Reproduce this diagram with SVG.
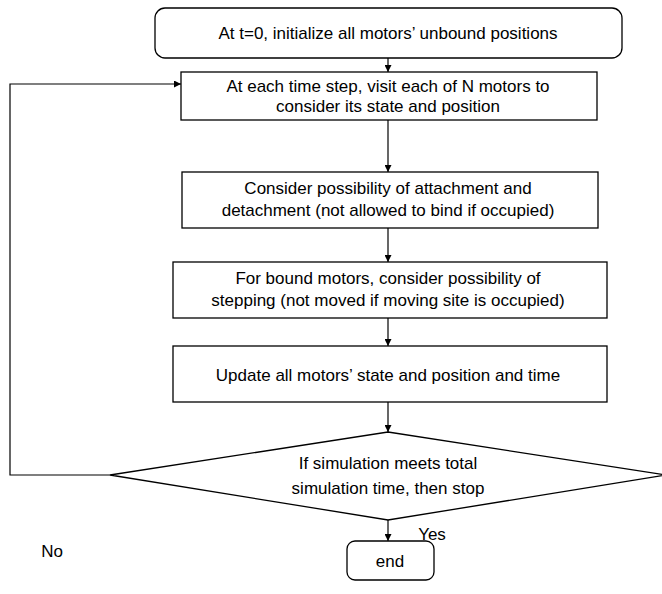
<svg xmlns="http://www.w3.org/2000/svg" width="662" height="594" viewBox="0 0 662 594">
<style>
.box{fill:#fff;stroke:#000;stroke-width:1.3}
.t{font-family:"Liberation Sans",Arial,sans-serif;font-size:17px;fill:#000;text-anchor:middle;dominant-baseline:central}
.c{fill:none;stroke:#000;stroke-width:1.2}
</style>
<defs>
<marker id="ah" viewBox="0 0 10 10" refX="10" refY="5" markerWidth="7" markerHeight="7" orient="auto" markerUnits="userSpaceOnUse">
<path d="M0,0 L10,5 L0,10 z" fill="#000"/>
</marker>
</defs>
<rect width="662" height="594" fill="#fff"/>
<g id="connectors">
<line class="c" x1="388" y1="58" x2="388" y2="72" marker-end="url(#ah)"/>
<line class="c" x1="388" y1="120" x2="388" y2="172" marker-end="url(#ah)"/>
<line class="c" x1="388" y1="228" x2="388" y2="262" marker-end="url(#ah)"/>
<line class="c" x1="388" y1="318" x2="388" y2="346" marker-end="url(#ah)"/>
<line class="c" x1="388" y1="402" x2="388" y2="432" marker-end="url(#ah)"/>
<line class="c" x1="388" y1="520" x2="388" y2="541" marker-end="url(#ah)"/>
<polyline class="c" points="110,475 10,475 10,84 181,84" marker-end="url(#ah)"/>
<text class="t" x="52" y="551">No</text>
<text class="t" x="432" y="534">Yes</text>
</g>
<g id="n1"><rect class="box" x="155" y="8" width="467" height="50" rx="10"/><text class="t" x="388" y="33">At t=0, initialize all motors’ unbound positions</text></g>
<g id="n2"><rect class="box" x="181" y="72" width="416" height="48"/><text class="t" x="388" y="86">At each time step, visit each of N motors to</text><text class="t" x="388" y="106">consider its state and position</text></g>
<g id="n3"><rect class="box" x="182" y="172" width="416" height="56"/><text class="t" x="388" y="188">Consider possibility of attachment and</text><text class="t" x="388" y="210">detachment (not allowed to bind if occupied)</text></g>
<g id="n4"><rect class="box" x="173" y="262" width="434" height="56"/><text class="t" x="388" y="278">For bound motors, consider possibility of</text><text class="t" x="388" y="300">stepping (not moved if moving site is occupied)</text></g>
<g id="n5"><rect class="box" x="173" y="346" width="434" height="56"/><text class="t" x="388" y="375">Update all motors’ state and position and time</text></g>
<g id="n6"><polygon class="box" points="388,432 666,475 388,520 110,475"/><text class="t" x="388" y="463">If simulation meets total</text><text class="t" x="388" y="488">simulation time, then stop</text></g>
<g id="n7"><rect class="box" x="347" y="541" width="87" height="39" rx="8"/><text class="t" x="390" y="561">end</text></g>
</svg>
